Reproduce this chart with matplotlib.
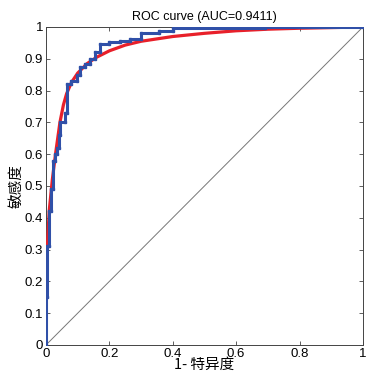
import matplotlib
matplotlib.use("Agg")
import matplotlib.pyplot as plt

plt.rcParams['font.family'] = ['Liberation Sans', 'DejaVu Sans']

# empirical ROC (step curve)
roc_fpr = [0.0, 0.0, 0.002, 0.002, 0.01, 0.01, 0.015, 0.015, 0.023, 0.023, 0.028, 0.028,
           0.036, 0.036, 0.042, 0.042, 0.044, 0.044, 0.06, 0.06, 0.065, 0.065, 0.08, 0.08,
           0.097, 0.097, 0.107, 0.107, 0.123, 0.123, 0.139, 0.139, 0.155, 0.155, 0.17, 0.17,
           0.2, 0.2, 0.234, 0.234, 0.266, 0.266, 0.30, 0.30, 0.355, 0.355, 0.40, 0.40,
           0.69, 0.69, 1.0]
roc_tpr = [0.0, 0.15, 0.15, 0.31, 0.31, 0.42, 0.42, 0.49, 0.49, 0.58, 0.58, 0.60,
           0.60, 0.62, 0.62, 0.66, 0.66, 0.70, 0.70, 0.73, 0.73, 0.82, 0.82, 0.83,
           0.83, 0.85, 0.85, 0.875, 0.875, 0.885, 0.885, 0.90, 0.90, 0.92, 0.92, 0.945,
           0.945, 0.952, 0.952, 0.957, 0.957, 0.962, 0.962, 0.98, 0.98, 0.988, 0.988, 0.996,
           0.996, 1.0, 1.0]

# fitted smooth ROC
fit_fpr = [0.0, 0.001, 0.004, 0.01, 0.02, 0.03, 0.044, 0.055, 0.065, 0.08, 0.1, 0.13,
           0.16, 0.2, 0.25, 0.3, 0.34, 0.4, 0.5, 0.6, 0.7, 0.8, 0.9, 1.0]
fit_tpr = [0.0, 0.15, 0.30, 0.42, 0.52, 0.60, 0.70, 0.755, 0.79, 0.825, 0.855, 0.885,
           0.905, 0.925, 0.943, 0.955, 0.961, 0.97, 0.98, 0.988, 0.993, 0.996, 0.998, 1.0]

diag = [0.0, 1.0]

xticks = [0, 0.2, 0.4, 0.6, 0.8, 1]
xticklabels = ['0', '0.2', '0.4', '0.6', '0.8', '1']
yticks = [0, 0.1, 0.2, 0.3, 0.4, 0.5, 0.6, 0.7, 0.8, 0.9, 1]
yticklabels = ['0', '0.1', '0.2', '0.3', '0.4', '0.5', '0.6', '0.7', '0.8', '0.9', '1']

fig = plt.figure(figsize=(3.73, 3.82), dpi=100)
ax = fig.add_axes([0.1233, 0.0969, 0.8497, 0.8325])

ax.plot(diag, diag, color='#777777', lw=0.7, zorder=2)
ax.plot(fit_fpr, fit_tpr, color='#e8202a', lw=2.3, zorder=3)
ax.plot(roc_fpr, roc_tpr, color='#3050a8', lw=2.2, marker='s', ms=1.8,
        mfc='#3050a8', mec='#3050a8', zorder=4)

ax.set_xlim(0, 1)
ax.set_ylim(0, 1)
ax.set_xticks(xticks)
ax.set_xticklabels(xticklabels)
ax.set_yticks(yticks)
ax.set_yticklabels(yticklabels)
ax.tick_params(direction='in', top=True, right=True, labelsize=9.5, length=3,
               width=0.6, color='#444444', pad=2)
for s in ax.spines.values():
    s.set_linewidth(0.7)
    s.set_color('#444444')

ax.set_title('ROC curve (AUC=0.9411)', fontsize=9, pad=5)
ax.set_xlabel('1- 特异度', fontsize=10.5, family=['Noto Sans CJK SC', 'DejaVu Sans'], labelpad=-1)
ax.set_ylabel('敏感度', fontsize=10.5, family=['Noto Sans CJK SC', 'DejaVu Sans'], labelpad=1)

fig.savefig('out.png', dpi=100)
